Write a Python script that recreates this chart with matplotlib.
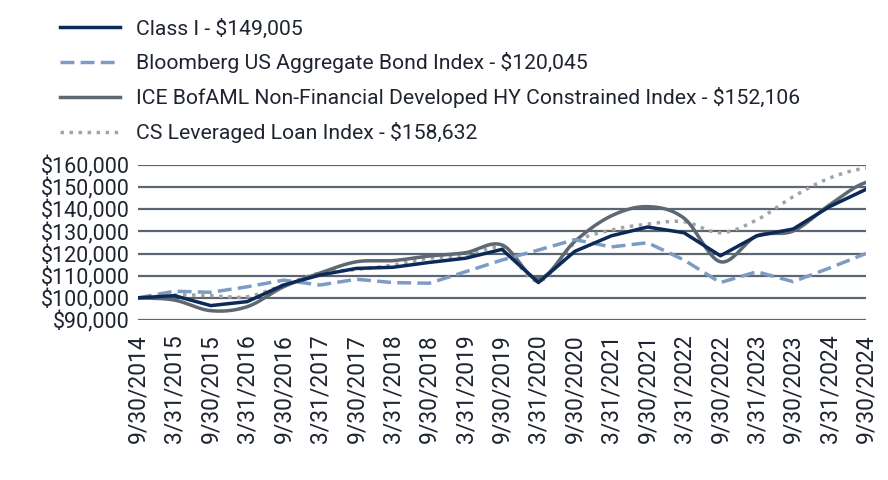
import numpy as np
import matplotlib
matplotlib.use("Agg")
import matplotlib.pyplot as plt
from matplotlib.ticker import FuncFormatter

plt.rcParams['font.family'] = ['Roboto', 'DejaVu Sans']

dates = ["9/30/2014", "3/31/2015", "9/30/2015", "3/31/2016", "9/30/2016",
         "3/31/2017", "9/30/2017", "3/31/2018", "9/30/2018", "3/31/2019",
         "9/30/2019", "3/31/2020", "9/30/2020", "3/31/2021", "9/30/2021",
         "3/31/2022", "9/30/2022", "3/31/2023", "9/30/2023", "3/31/2024",
         "9/30/2024"]

class_i = [100000, 101000, 96500, 98300, 105800, 110300, 113300, 113800, 116000, 117900,
           121900, 106900, 121000, 128000, 132000, 129400, 119000, 128000, 131100, 141200,
           149005]
bloomberg = [100000, 103000, 102500, 105000, 108000, 105800, 108400, 106900, 106600, 111800,
             117100, 121600, 126300, 123000, 124900, 117100, 106900, 111800, 107300, 113500,
             120045]
ice = [100000, 99000, 94200, 96000, 105000, 111200, 116300, 116800, 118900, 120400,
       123900, 108600, 125500, 137000, 141200, 136000, 116300, 128000, 130200, 142000,
       152106]
cs_loan = [100000, 101300, 101000, 100500, 105800, 111200, 112800, 114800, 117900, 118900,
           122400, 107500, 124800, 130600, 133300, 134400, 129400, 135200, 145700, 154100,
           158632]

labels = ["Class I - $149,005",
          "Bloomberg US Aggregate Bond Index - $120,045",
          "ICE BofAML Non-Financial Developed HY Constrained Index - $152,106",
          "CS Leveraged Loan Index - $158,632"]


def smooth(y, n=20):
    # catmull-rom through the points, like a smoothed office chart line
    y = np.asarray(y, dtype=float)
    p = np.concatenate([[y[0]], y, [y[-1]]])
    xs, ys = [], []
    t = np.linspace(0, 1, n, endpoint=False)
    for i in range(len(y) - 1):
        p0, p1, p2, p3 = p[i], p[i + 1], p[i + 2], p[i + 3]
        seg = 0.5 * ((2 * p1) + (-p0 + p2) * t + (2 * p0 - 5 * p1 + 4 * p2 - p3) * t ** 2
                     + (-p0 + 3 * p1 - 3 * p2 + p3) * t ** 3)
        xs.append(i + t)
        ys.append(seg)
    xs.append([len(y) - 1])
    ys.append([y[-1]])
    return np.concatenate(xs), np.concatenate(ys)


fig = plt.figure(figsize=(8.88, 4.8), dpi=100)
ax = fig.add_axes([138 / 888, 1 - 320 / 480, (866 - 138) / 888, (320 - 165) / 480])

xi = np.arange(len(dates))
ax.plot(xi, class_i, color='#0b2a57', lw=2.5, label=labels[0], zorder=5)
ax.plot(xi, bloomberg, color='#7d9cc4', lw=2.5, ls=(0, (4, 1.8)), label=labels[1], zorder=4)
x, y = smooth(ice)
ax.plot(x, y, color='#5d6872', lw=2.5, label=labels[2], zorder=3)
x, y = smooth(cs_loan)
ax.plot(x, y, color='#a3a3a3', lw=2.5, ls=(0, (1, 1.6)), label=labels[3], zorder=2)

ax.set_ylim(90000, 160000)
ax.set_xlim(0, len(dates) - 1)
ax.set_yticks(np.arange(90000, 160001, 10000))
ax.yaxis.set_major_formatter(FuncFormatter(lambda v, p: "${:,.0f}".format(v)))
ax.set_xticks(xi)
ax.set_xticklabels(dates, rotation=90)
ax.grid(axis='y', color='#5b6670', lw=1.6)
ax.set_axisbelow(True)
for s in ax.spines.values():
    s.set_visible(False)
ax.tick_params(length=0, colors='#1e2430')
ax.tick_params(axis='y', labelsize=15.5, pad=6)
ax.tick_params(axis='x', labelsize=16.5, pad=10)

fig.legend(loc='upper left', bbox_to_anchor=(52 / 888, 1 - 10 / 480), frameon=False,
           fontsize=15.2, handlelength=2.8, handletextpad=0.8, labelspacing=0.66,
           labelcolor='#1e2430', borderaxespad=0)

fig.savefig("out.png", dpi=100)
